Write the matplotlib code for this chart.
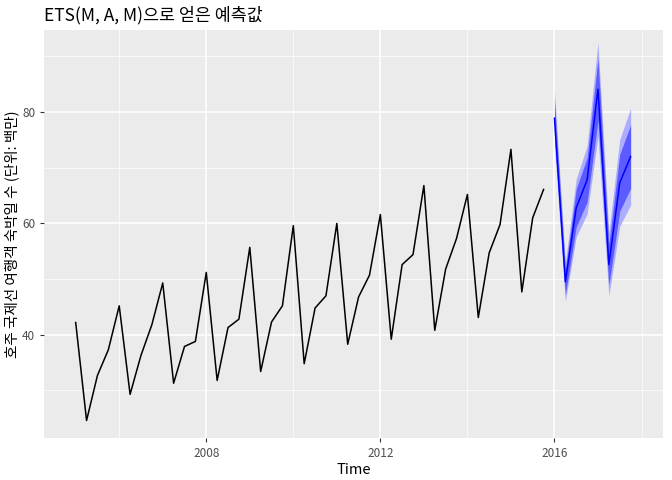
import matplotlib
matplotlib.use("Agg")
import matplotlib.pyplot as plt
import numpy as np

plt.rcParams['font.family'] = ['Noto Sans CJK KR', 'DejaVu Sans']

# quarterly visitor nights, 2005Q1 - 2015Q4
observed = [42.2, 24.6, 32.7, 37.3,
            45.2, 29.3, 36.3, 41.8,
            49.3, 31.3, 37.9, 38.8,
            51.2, 31.8, 41.3, 42.8,
            55.7, 33.4, 42.3, 45.2,
            59.6, 34.8, 44.8, 47.0,
            60.0, 38.3, 46.8, 50.7,
            61.6, 39.2, 52.6, 54.4,
            66.8, 40.8, 51.8, 57.3,
            65.2, 43.1, 54.7, 59.8,
            73.3, 47.7, 61.0, 66.1]
start_year = 2005.0

# forecast 2016Q1 - 2017Q4
fc_mean = [78.9, 49.5, 62.8, 67.8, 84.1, 52.6, 67.3, 72.0]
lo80 = [75.8, 47.2, 59.4, 63.8, 78.5, 48.9, 62.2, 66.3]
hi80 = [82.1, 51.8, 66.2, 71.8, 89.6, 56.3, 72.4, 77.7]
lo95 = [74.1, 46.0, 57.6, 61.7, 75.6, 47.0, 59.5, 63.3]
hi95 = [83.8, 53.0, 68.0, 73.9, 92.5, 58.3, 75.1, 80.7]
fc_start = 2016.0

t_obs = start_year + np.arange(len(observed)) / 4
t_fc = fc_start + np.arange(len(fc_mean)) / 4

fig, ax = plt.subplots(figsize=(6.72, 4.8), dpi=100)
fig.subplots_adjust(left=0.066, right=0.987, top=0.937, bottom=0.088)
ax.set_facecolor("#EBEBEB")
for s in ax.spines.values():
    s.set_visible(False)

ax.fill_between(t_fc, lo95, hi95, color="#ADADFF", lw=0, zorder=2)
ax.fill_between(t_fc, lo80, hi80, color="#5B5BFF", lw=0, zorder=3)
ax.plot(t_obs, observed, color="black", lw=1.1, zorder=4)
ax.plot(t_fc, fc_mean, color="#0000FF", lw=1.1, zorder=5)

ax.set_xlim(2004.28, 2018.5)
ax.set_ylim(21.5, 94.7)
ax.set_xticks([2008, 2012, 2016])
ax.set_xticks([2006, 2010, 2014, 2018], minor=True)
ax.set_yticks([40, 60, 80])
ax.set_yticks([30, 50, 70, 90], minor=True)
ax.grid(which="major", color="white", lw=1.1, zorder=0)
ax.grid(which="minor", color="white", lw=0.5, zorder=0)
ax.set_axisbelow(True)
ax.tick_params(which="both", length=3, color="#333333", labelsize=8.5, labelcolor="#4D4D4D")
ax.tick_params(which="minor", length=0)

ax.set_xlabel("Time", fontsize=10.5, labelpad=2)
ax.set_ylabel("호주 국제선 여행객 숙박일 수 (단위: 백만)", fontsize=10.5, labelpad=2)
ax.set_title("ETS(M, A, M)으로 얻은 예측값", loc="left", fontsize=12.5, pad=7)

fig.savefig("out.png", dpi=100)
